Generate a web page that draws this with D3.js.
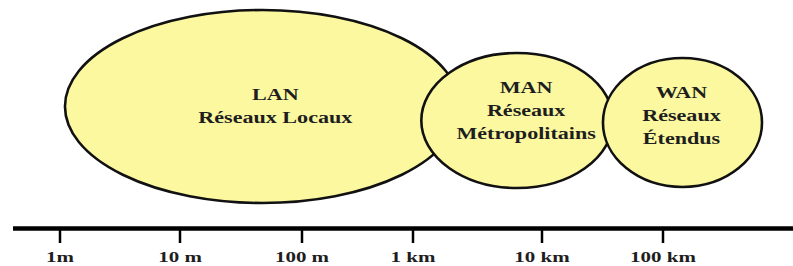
<!DOCTYPE html>
<html lang="fr">
<head>
    <meta charset="UTF-8">
    <title>LAN MAN WAN</title>
    <script src="https://d3js.org/d3.v7.min.js"></script>
    <style>
        body { margin: 0; background: #fff; }
        text { font-family: "Liberation Serif", "Times New Roman", serif; font-weight: bold; fill: #1e1e1e; }
    </style>
</head>
<body>
    <script>
        // distance scale (metres) and its tick labels
        var tickValues = [1, 10, 100, 1000, 10000, 100000];
        var tickLabels = ['1m', '10 m', '100 m', '1 km', '10 km', '100 km'];

        // network families: name, subtitle lines, span covered in metres
        var networks = ['LAN', 'MAN', 'WAN'];
        var subtitles = [['Réseaux Locaux'], ['Réseaux', 'Métropolitains'], ['Réseaux', 'Étendus']];
        var spanMin = [1.1, 1160, 31900];
        var spanMax = [2300, 38600, 658000];

        var w = 793;
        var h = 266;
        var axisY = 228.5;
        // vertical layout of each bubble: centre y, half height, label nudge
        var bubbleCy = [106.5, 120.5, 122.5];
        var bubbleRy = [96.5, 67.5, 64.5];
        var labelDx = [13, 9, -1];
        var labelTop = [100, 93, 98];
        var lineGap = 23;

        var xScale = d3.scaleLog()
                       .domain(tickValues)
                       .range([60, 180, 302, 413, 542, 663]);

        var svg = d3.select('body')
                    .append('svg')
                    .attr('width', w)
                    .attr('height', h);

        // bubbles
        var bubbles = svg.selectAll('.bubble')
                         .data(networks)
                         .enter()
                         .append('g')
                         .attr('class', 'bubble');

        bubbles.append('ellipse')
               .attr('cx', function(d, i) {
                   return (xScale(spanMin[i]) + xScale(spanMax[i])) / 2;
               })
               .attr('cy', function(d, i) { return bubbleCy[i]; })
               .attr('rx', function(d, i) {
                   return (xScale(spanMax[i]) - xScale(spanMin[i])) / 2;
               })
               .attr('ry', function(d, i) { return bubbleRy[i]; })
               .attr('fill', '#fbf8a0')
               .attr('stroke', '#111')
               .attr('stroke-width', 2.6);

        bubbles.each(function(d, i) {
            var cx = (xScale(spanMin[i]) + xScale(spanMax[i])) / 2 + labelDx[i];
            var lines = [d].concat(subtitles[i]);
            d3.select(this).selectAll('text')
              .data(lines)
              .enter()
              .append('text')
              .attr('text-anchor', 'middle')
              .attr('font-size', 17)
              .attr('transform', function(t, j) {
                  return 'translate(' + cx + ',' + (labelTop[i] + j * lineGap) + ') scale(1.3,1)';
              })
              .text(function(t) { return t; });
        });

        // axis
        svg.append('line')
           .attr('x1', 13)
           .attr('x2', w)
           .attr('y1', axisY)
           .attr('y2', axisY)
           .attr('stroke', '#000')
           .attr('stroke-width', 4.5);

        svg.selectAll('.tick')
           .data(tickValues)
           .enter()
           .append('line')
           .attr('class', 'tick')
           .attr('x1', function(d) { return xScale(d); })
           .attr('x2', function(d) { return xScale(d); })
           .attr('y1', axisY)
           .attr('y2', 243)
           .attr('stroke', '#000')
           .attr('stroke-width', 2.5);

        svg.selectAll('.tickLabel')
           .data(tickValues)
           .enter()
           .append('text')
           .attr('class', 'tickLabel')
           .attr('text-anchor', 'middle')
           .attr('font-size', 15)
           .attr('transform', function(d) {
               return 'translate(' + xScale(d) + ',262) scale(1.4,1)';
           })
           .text(function(d, i) { return tickLabels[i]; });
    </script>
</body>
</html>
